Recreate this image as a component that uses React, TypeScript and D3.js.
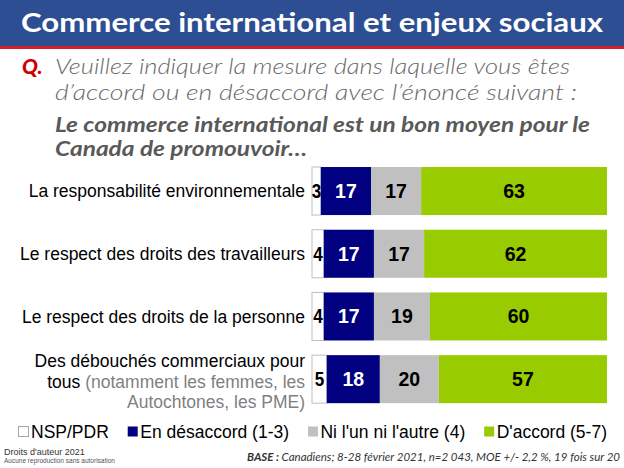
import React, { useEffect, useRef } from "react";
import * as d3 from "d3";

const categories = [
  "La responsabilité environnementale",
  "Le respect des droits des travailleurs",
  "Le respect des droits de la personne",
  "Des débouchés commerciaux pour tous",
];
const seriesNames = ["NSP/PDR", "En désaccord (1-3)", "Ni l'un ni l'autre (4)", "D'accord (5-7)"];
const nspValues = [3, 4, 4, 5];
const disagreeValues = [17, 17, 17, 18];
const neitherValues = [17, 17, 19, 20];
const agreeValues = [63, 62, 60, 57];
const seriesColors = ["#FFFFFF", "#000080", "#C0C0C0", "#99CC00"];
const labelColors = ["#000000", "#FFFFFF", "#000000", "#000000"];

const W = 624;
const H = 468;

export default function App() {
  const ref = useRef<SVGSVGElement>(null);

  useEffect(() => {
    document.body.style.margin = "0";
    const svg = d3.select(ref.current);
    svg.selectAll("*").remove();

    // Title bar
    svg.append("rect").attr("x", 0).attr("y", 0).attr("width", W).attr("height", 46).attr("fill", "#2E4E93");
    svg.append("rect").attr("x", 0).attr("y", 46).attr("width", W).attr("height", 3).attr("fill", "#D2202F");
    svg.append("text")
      .attr("x", W / 2).attr("y", 32)
      .attr("text-anchor", "middle")
      .attr("fill", "#FFFFFF")
      .attr("font-family", "Lato, 'Open Sans', sans-serif")
      .attr("font-weight", 700)
      .attr("font-size", 27)
      .attr("textLength", 582)
      .attr("lengthAdjust", "spacingAndGlyphs")
      .text("Commerce international et enjeux sociaux");

    // Question
    const qFont = "Lato, 'Open Sans', sans-serif";
    svg.append("text").attr("x", 22).attr("y", 74)
      .attr("font-family", qFont).attr("font-style", "italic").attr("font-weight", 900)
      .attr("font-size", 21).attr("fill", "#CC0000").text("Q.");
    const qLines = [
      { t: "Veuillez indiquer la mesure dans laquelle vous êtes", y: 74, w: 300, c: "#6A6A6A", len: 515 },
      { t: "d’accord ou en désaccord avec l’énoncé suivant :", y: 100, w: 300, c: "#6A6A6A", len: 522 },
      { t: "Le commerce international est un bon moyen pour le", y: 132, w: 700, c: "#595959", len: 535 },
      { t: "Canada de promouvoir…", y: 156, w: 700, c: "#595959", len: 252 },
    ];
    qLines.forEach((l) => {
      svg.append("text").attr("x", 55).attr("y", l.y)
        .attr("font-family", qFont).attr("font-style", "italic").attr("font-weight", l.w)
        .attr("font-size", 21).attr("fill", l.c)
        .attr("textLength", l.len).attr("lengthAdjust", "spacingAndGlyphs")
        .text(l.t);
    });

    // Bars
    const x = d3.scaleLinear().domain([0, 100]).range([312, 607]);
    const y = d3.scaleBand<string>().domain(categories).range([160, 410.2]).paddingInner(0.234).paddingOuter(0.112);
    const series = [nspValues, disagreeValues, neitherValues, agreeValues];
    const rows = categories.map((c, i) => {
      let acc = 0;
      return series.map((s, k) => {
        const seg = { cat: c, k, v: s[i], x0: acc, x1: acc + s[i] };
        acc += s[i];
        return seg;
      });
    });

    const g = svg.append("g");
    rows.forEach((segs) => {
      segs.forEach((s) => {
        g.append("rect")
          .attr("x", x(s.x0))
          .attr("y", y(s.cat)!)
          .attr("width", x(s.x1) - x(s.x0))
          .attr("height", y.bandwidth())
          .attr("fill", seriesColors[s.k])
          .attr("stroke", s.k === 0 ? "#BFBFBF" : "none")
          .attr("stroke-width", 1);
      });
      segs.forEach((s) => {
        const t = g.append("text")
          .attr("x", (x(s.x0) + x(s.x1)) / 2)
          .attr("y", y(s.cat)! + y.bandwidth() / 2)
          .attr("dy", "0.36em")
          .attr("text-anchor", "middle")
          .attr("font-family", "Arial, 'Liberation Sans', sans-serif")
          .attr("font-weight", 700)
          .attr("font-size", 19.5)
          .attr("fill", labelColors[s.k])
          .text(s.v);
        if (s.k === 0) t.attr("textLength", 9.5).attr("lengthAdjust", "spacingAndGlyphs");
      });
    });

    // Category labels
    const labFont = "Arial, 'Liberation Sans', sans-serif";
    categories.slice(0, 3).forEach((c) => {
      svg.append("text")
        .attr("x", 305)
        .attr("y", y(c)! + y.bandwidth() / 2)
        .attr("dy", "0.36em")
        .attr("text-anchor", "end")
        .attr("font-family", labFont)
        .attr("font-size", 17.5)
        .attr("fill", "#000")
        .text(c);
    });
    const last = categories[3];
    const cy = y(last)! + y.bandwidth() / 2;
    const t4 = svg.append("text").attr("text-anchor", "end").attr("font-family", labFont).attr("font-size", 17.5);
    t4.append("tspan").attr("x", 305).attr("y", cy - 18).attr("dy", "0.36em").attr("fill", "#000").text("Des débouchés commerciaux pour");
    const l2 = t4.append("tspan").attr("x", 305).attr("y", cy + 3).attr("dy", "0.36em");
    l2.append("tspan").attr("fill", "#000").text("tous ");
    l2.append("tspan").attr("fill", "#7F7F7F").text("(notamment les femmes, les");
    t4.append("tspan").attr("x", 305).attr("y", cy + 23).attr("dy", "0.36em").attr("fill", "#7F7F7F").text("Autochtones, les PME)");

    // Legend
    const leg = svg.append("g");
    const items = seriesNames.map((n, i) => {
      const gi = leg.append("g");
      gi.append("rect").attr("x", 0.5).attr("y", -11.5).attr("width", 10).attr("height", 10)
        .attr("fill", seriesColors[i]).attr("stroke", i === 0 ? "#A6A6A6" : "none");
      const tx = gi.append("text").attr("x", 13).attr("y", 0)
        .attr("font-family", labFont).attr("font-size", 17.5).attr("fill", "#000").text(n);
      const w = (tx.node() as SVGTextElement).getComputedTextLength() + 13;
      return { gi, w };
    });
    const totalW = items.reduce((a, b) => a + b.w, 0);
    const gap = (607 - 18 - totalW) / 3;
    let lx = 18;
    items.forEach((it) => {
      it.gi.attr("transform", `translate(${lx},438)`);
      lx += it.w + gap;
    });

    // Footer
    svg.append("text").attr("x", 4).attr("y", 455).attr("font-family", labFont).attr("font-size", 9).attr("fill", "#333").text("Droits d'auteur 2021");
    svg.append("text").attr("x", 4).attr("y", 463).attr("font-family", labFont).attr("font-size", 6.5).attr("fill", "#555").text("Aucune reproduction sans autorisation");
    const base = svg.append("text").attr("x", 620).attr("y", 461).attr("text-anchor", "end")
      .attr("font-family", "Lato, 'Open Sans', sans-serif").attr("font-style", "italic").attr("font-size", 11.5).attr("fill", "#333");
    base.append("tspan").attr("font-weight", 700).text("BASE :");
    base.append("tspan").text(" Canadiens; 8-28 février 2021, n=2 043, MOE +/- 2,2 %, 19 fois sur 20");
  }, []);

  return <svg ref={ref} width={W} height={H} style={{ display: "block" }} />;
}
